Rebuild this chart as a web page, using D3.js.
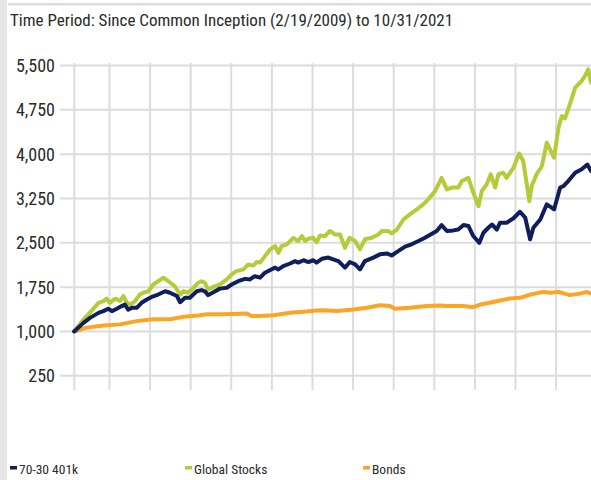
<!DOCTYPE html>
<html><head><meta charset="utf-8">
<script src="https://cdn.jsdelivr.net/npm/d3@7"></script>
<style>
html,body{margin:0;padding:0;background:#fff;}
svg{display:block;}
text{font-family:"Liberation Sans Narrow","Arial Narrow","Roboto Condensed",sans-serif;fill:#2a2a2a;}
</style></head><body>
<script>
const title = "Time Period: Since Common Inception (2/19/2009) to 10/31/2021";
const yTicks = [250, 1000, 1750, 2500, 3250, 4000, 4750, 5500];
const gridYears = [2009.134, 2010, 2011, 2012, 2013, 2014, 2015, 2016, 2017, 2018, 2019, 2020, 2021];
const seriesNames = ["70-30 401k", "Global Stocks", "Bonds"];
const seriesColors = ["#0f1f5e", "#b7cb3a", "#fca524"];

const portfolio = [[2009.13,1000],[2009.36,1145],[2009.52,1230],[2009.73,1315],[2009.85,1345],[2009.97,1385],[2010.06,1345],[2010.18,1385],[2010.3,1430],[2010.38,1455],[2010.46,1370],[2010.55,1400],[2010.67,1400],[2010.79,1485],[2010.92,1540],[2011.04,1585],[2011.2,1625],[2011.37,1680],[2011.49,1655],[2011.66,1600],[2011.74,1495],[2011.86,1570],[2011.98,1570],[2012.15,1680],[2012.27,1700],[2012.35,1680],[2012.43,1615],[2012.56,1665],[2012.72,1725],[2012.89,1740],[2013.01,1795],[2013.17,1850],[2013.34,1890],[2013.46,1880],[2013.58,1935],[2013.71,1910],[2013.83,1995],[2013.96,2040],[2014.08,2080],[2014.16,2050],[2014.28,2105],[2014.45,2150],[2014.57,2190],[2014.65,2165],[2014.78,2205],[2014.9,2175],[2015.02,2205],[2015.1,2165],[2015.23,2230],[2015.39,2250],[2015.51,2220],[2015.64,2190],[2015.8,2080],[2015.92,2175],[2016.05,2135],[2016.17,2050],[2016.29,2190],[2016.5,2250],[2016.66,2305],[2016.83,2320],[2016.95,2285],[2017.11,2360],[2017.28,2435],[2017.44,2475],[2017.61,2530],[2017.77,2585],[2017.92,2645],[2018.06,2700],[2018.18,2800],[2018.31,2700],[2018.47,2710],[2018.59,2725],[2018.72,2800],[2018.84,2785],[2018.96,2615],[2019.11,2500],[2019.21,2670],[2019.33,2755],[2019.42,2810],[2019.54,2725],[2019.62,2840],[2019.78,2840],[2019.95,2915],[2020.11,3025],[2020.24,2925],[2020.36,2560],[2020.44,2755],[2020.61,2895],[2020.77,3150],[2020.89,3095],[2020.95,3065],[2021.1,3435],[2021.18,3460],[2021.3,3545],[2021.47,3685],[2021.63,3745],[2021.77,3825],[2021.86,3715]];

const globalStocks = [[2009.13,1000],[2009.36,1205],[2009.48,1290],[2009.73,1485],[2009.85,1515],[2009.93,1555],[2010.01,1485],[2010.14,1555],[2010.26,1515],[2010.34,1600],[2010.43,1485],[2010.51,1455],[2010.63,1515],[2010.75,1625],[2010.83,1655],[2010.96,1680],[2011.08,1795],[2011.2,1850],[2011.33,1910],[2011.45,1850],[2011.61,1765],[2011.74,1625],[2011.82,1680],[2011.94,1655],[2012.07,1740],[2012.19,1825],[2012.27,1850],[2012.35,1825],[2012.43,1710],[2012.56,1755],[2012.72,1795],[2012.89,1880],[2013.01,1965],[2013.13,2020],[2013.3,2050],[2013.42,2135],[2013.54,2115],[2013.63,2175],[2013.71,2165],[2013.83,2275],[2013.96,2390],[2014.08,2445],[2014.16,2330],[2014.24,2445],[2014.37,2475],[2014.45,2530],[2014.53,2585],[2014.65,2530],[2014.74,2615],[2014.82,2530],[2014.9,2570],[2015.02,2585],[2015.1,2510],[2015.19,2625],[2015.31,2615],[2015.43,2700],[2015.56,2640],[2015.68,2640],[2015.8,2415],[2015.91,2585],[2016.05,2530],[2016.17,2390],[2016.29,2560],[2016.46,2585],[2016.62,2640],[2016.71,2700],[2016.87,2700],[2016.95,2660],[2017.08,2725],[2017.24,2895],[2017.4,2980],[2017.57,3065],[2017.73,3150],[2017.85,3235],[2018.02,3375],[2018.18,3600],[2018.31,3405],[2018.43,3435],[2018.59,3435],[2018.68,3545],[2018.84,3600],[2018.96,3350],[2019.09,3120],[2019.17,3375],[2019.29,3490],[2019.39,3660],[2019.5,3435],[2019.58,3660],[2019.7,3685],[2019.78,3600],[2019.95,3770],[2020.09,4010],[2020.19,3885],[2020.34,3205],[2020.4,3460],[2020.52,3660],[2020.65,3800],[2020.77,4195],[2020.85,4080],[2020.95,3940],[2021.06,4450],[2021.14,4645],[2021.22,4605],[2021.34,4845],[2021.47,5125],[2021.63,5240],[2021.71,5320],[2021.79,5435],[2021.86,5210]];

const bonds = [[2009.13,1000],[2009.44,1065],[2009.85,1100],[2010.26,1120],[2010.67,1175],[2011.08,1205],[2011.49,1205],[2011.82,1250],[2012.19,1270],[2012.4,1290],[2012.8,1290],[2013.22,1300],[2013.38,1305],[2013.5,1260],[2013.71,1260],[2014.04,1275],[2014.45,1315],[2014.78,1335],[2015.1,1355],[2015.27,1360],[2015.6,1345],[2016.01,1370],[2016.34,1400],[2016.66,1445],[2016.91,1430],[2017.03,1385],[2017.4,1400],[2017.81,1430],[2018.14,1440],[2018.31,1430],[2018.72,1430],[2018.96,1410],[2019.13,1455],[2019.37,1485],[2019.62,1525],[2019.87,1560],[2020.11,1570],[2020.36,1625],[2020.69,1670],[2020.85,1655],[2021.06,1670],[2021.34,1615],[2021.59,1640],[2021.75,1670],[2021.86,1640]];

const W = 591, H = 480;
const svg = d3.select("body").append("svg").attr("width", W).attr("height", H);

// frame
svg.append("rect").attr("x",0).attr("y",0).attr("width",7).attr("height",H).attr("fill","#e6e6e6");
svg.append("rect").attr("x",8).attr("y",3).attr("width",W-8).attr("height",2.5).attr("fill","#dedede");

svg.append("text").attr("x",10).attr("y",26).attr("font-size",17).text(title);

const x = d3.scaleLinear().domain([2009.134, 2021.83]).range([74.3, 589.8]);
const y = d3.scaleLinear().domain([250, 5500]).range([375.8, 65.5]);

const grid = svg.append("g");
grid.selectAll("line.h").data(yTicks).join("line")
  .attr("x1",60).attr("x2",W).attr("y1",d=>y(d)).attr("y2",d=>y(d))
  .attr("stroke","#dcdcdc").attr("stroke-width",2);
grid.selectAll("line.v").data(gridYears).join("line")
  .attr("x1",d=>x(d)).attr("x2",d=>x(d)).attr("y1",63).attr("y2",390)
  .attr("stroke","#dcdcdc").attr("stroke-width",2);

const fmt = d3.format(",");
svg.append("g").selectAll("text").data(yTicks).join("text")
  .attr("x",55).attr("y",d=>y(d)).attr("dy","0.36em").attr("text-anchor","end")
  .attr("font-size",18).text(d=>fmt(d));

const line = d3.line().x(d=>x(d[0])).y(d=>y(d[1]));
const series = [bonds, globalStocks, portfolio];
const cols = [seriesColors[2], seriesColors[1], seriesColors[0]];
svg.append("g").selectAll("path").data(series).join("path")
  .attr("d", line).attr("fill","none").attr("stroke",(d,i)=>cols[i])
  .attr("stroke-width",4).attr("stroke-linejoin","round").attr("stroke-linecap","round");

const legX = [10, 185, 363];
const leg = svg.append("g").selectAll("g").data(seriesNames).join("g")
  .attr("transform",(d,i)=>`translate(${legX[i]},0)`);
leg.append("rect").attr("x",0).attr("y",466).attr("width",7).attr("height",3.5).attr("fill",(d,i)=>seriesColors[i]);
leg.append("text").attr("x",9).attr("y",474).attr("font-size",13.5).text(d=>d);
</script>
</body></html>
